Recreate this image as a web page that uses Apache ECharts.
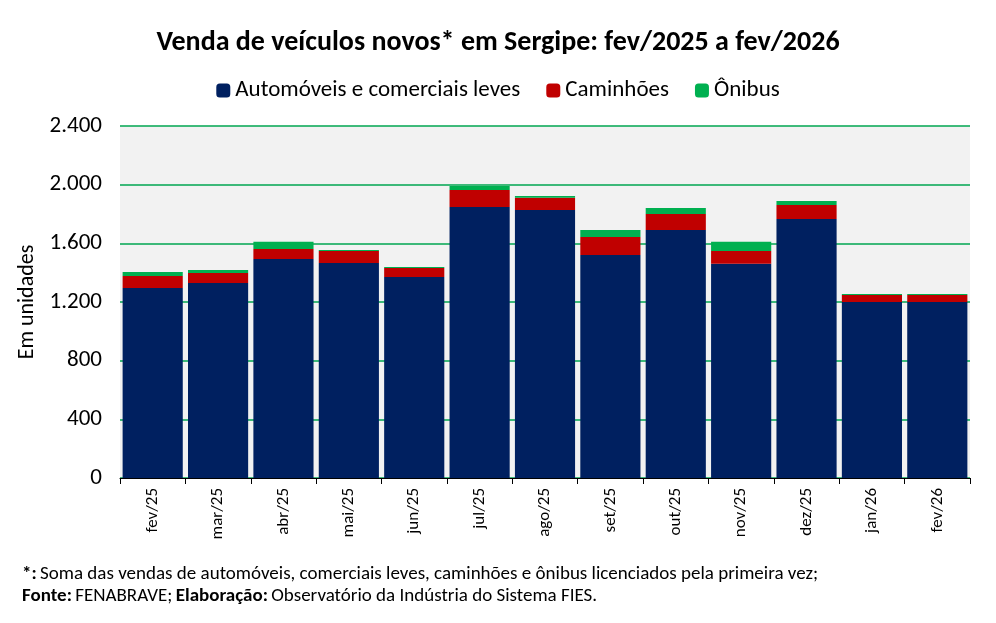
<!DOCTYPE html><html><head><meta charset="utf-8"><script src="https://cdn.jsdelivr.net/npm/echarts@6/dist/echarts.min.js"></script></head><body style="margin:0"><div id="c" style="width:996px;height:623px"></div><script>
const categories=['fev/25','mar/25','abr/25','mai/25','jun/25','jul/25','ago/25','set/25','out/25','nov/25','dez/25','jan/26','fev/26'];
const autos=[1296,1330,1494,1466,1371,1848,1828,1521,1691,1460,1766,1200,1200];
const caminhoes=[82,68,68,82,61,116,82,123,109,88,96,48,48];
const onibus=[27,21,48,7,7,27,13,47,41,62,27,7,7];
const F='Calibri, Carlito, "Open Sans", sans-serif';
const ch=echarts.init(document.getElementById('c'));
ch.setOption({
 textStyle:{fontFamily:F},
 title:{text:'Venda de veículos novos* em Sergipe: fev/2025 a fev/2026',left:'center',top:24,textStyle:{fontSize:28,fontWeight:'bold',color:'#000',fontFamily:F}},
 legend:{top:74,left:'center',itemWidth:14,itemHeight:14,itemGap:26,textStyle:{fontSize:23,color:'#000',fontFamily:F},data:['Automóveis e comerciais leves','Caminhões','Ônibus']},
 grid:{left:120,right:26,top:126,bottom:145,backgroundColor:'#f2f2f2',show:true,borderWidth:0},
 xAxis:{type:'category',data:categories,axisLine:{lineStyle:{color:'#000'}},axisTick:{show:true,length:6,lineStyle:{color:'#000'}},axisLabel:{rotate:90,fontSize:17,color:'#000',fontFamily:F,margin:10}},
 yAxis:{type:'value',min:0,max:2400,interval:400,name:'Em unidades',nameLocation:'middle',nameGap:82,nameTextStyle:{fontSize:22,color:'#000',fontFamily:F},
  axisLabel:{fontSize:23,color:'#000',fontFamily:F,margin:18,formatter:v=>v.toLocaleString('pt-BR')},splitLine:{lineStyle:{color:'#00a651',width:1.5}},axisLine:{show:false}},
 series:[
  {name:'Automóveis e comerciais leves',type:'bar',stack:'a',data:autos,barCategoryGap:'8%',itemStyle:{color:'#002060'}},
  {name:'Caminhões',type:'bar',stack:'a',data:caminhoes,itemStyle:{color:'#c00000'}},
  {name:'Ônibus',type:'bar',stack:'a',data:onibus,itemStyle:{color:'#00b050'}}
 ],
 graphic:[
  {type:'text',left:22,top:565,style:{rich:{b:{fontWeight:'bold',fontSize:19,fontFamily:F},n:{fontSize:19,fontFamily:F}},text:'{b|*:} {n|Soma das vendas de automóveis, comerciais leves, caminhões e ônibus licenciados pela primeira vez;}',fill:'#000'}},
  {type:'text',left:22,top:587,style:{rich:{b:{fontWeight:'bold',fontSize:19,fontFamily:F},n:{fontSize:19,fontFamily:F}},text:'{b|Fonte:} {n|FENABRAVE;} {b|Elaboração:} {n|Observatório da Indústria do Sistema FIES.}',fill:'#000'}}
 ]
});
</script></body></html>
